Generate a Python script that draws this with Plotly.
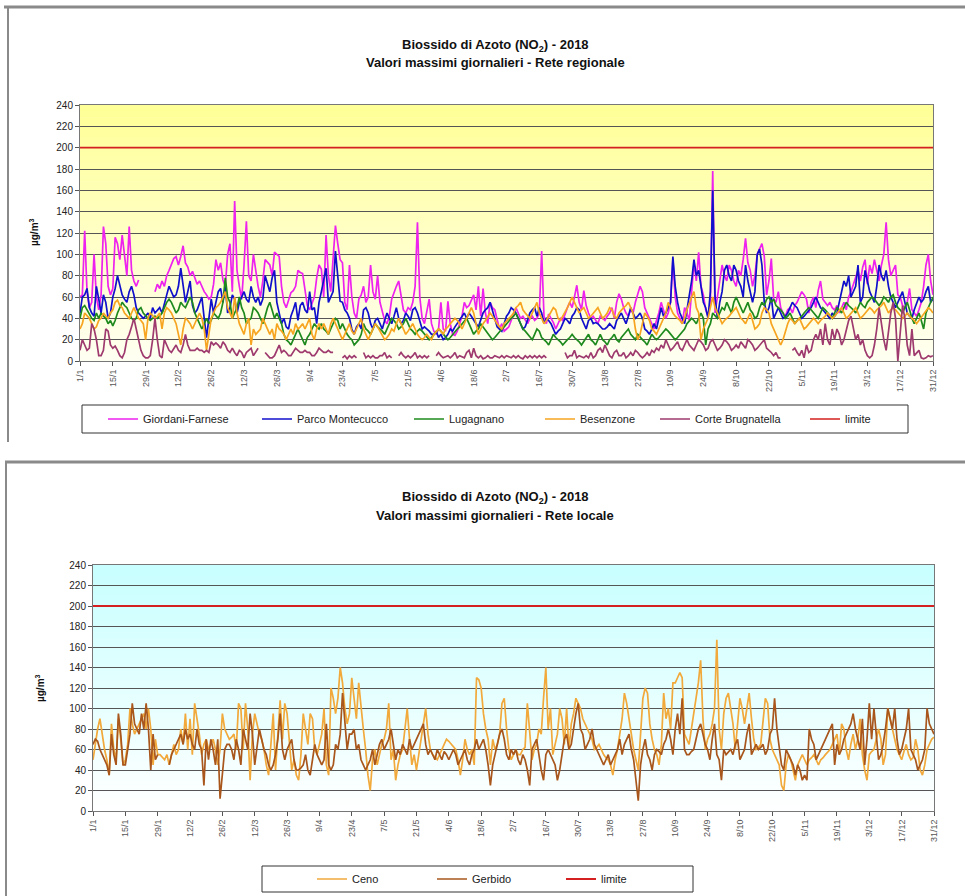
import pandas as pd
import plotly.graph_objects as go

N = None

# ---------------- DATA ----------------
dates = pd.date_range("2018-01-01", "2018-12-31", freq="D")
tick_dates = pd.date_range("2018-01-01", "2018-12-31", freq="14D")
tick_labels = ["1/1", "15/1", "29/1", "12/2", "26/2", "12/3", "26/3", "9/4", "23/4",
               "7/5", "21/5", "4/6", "18/6", "2/7", "16/7", "30/7", "13/8", "27/8",
               "10/9", "24/9", "8/10", "22/10", "5/11", "19/11", "3/12", "17/12", "31/12"]
LIMITE = 200

giordani_farnese = [
    60, 62, 122, 65, 50, 55, 100, 60, 48, 62, 126, 110, 70, 62,
    68, 116, 110, 95, 118, 98, 80, 126, 85, 75, 70, 76, N, N,
    N, N, N, N, 65, 72, 68, 75, 70, 80, 85, 90, 96, 98,
    90, 98, 108, 92, 88, 80, 84, 78, 72, 75, 70, 65, 62, 58,
    60, 72, 95, 85, 92, 76, 70, 100, 110, 65, 150, 85, 70, 58,
    90, 131, 80, 75, 100, 85, 70, 60, 75, 95, 92, 90, 80, 102,
    100, 98, 70, 55, 50, 58, 64, 66, 70, 85, 83, 82, 65, 52,
    48, 55, 60, 78, 90, 86, 60, 118, 80, 65, 100, 127, 110, 95,
    92, 55, 48, 90, 60, 45, 40, 58, 62, 70, 55, 60, 90, 65,
    58, 80, 55, 45, 38, 35, 42, 58, 65, 70, 75, 60, 48, 45,
    50, 48, 55, 70, 130, 60, 40, 35, 45, 58, 35, 28, 25, 30,
    55, 30, 28, 56, 35, 25, 24, 28, 35, 42, 55, 50, 52, 58,
    62, 48, 70, 42, 68, 45, 35, 55, 50, 48, 38, 30, 35, 28,
    30, 32, 38, 45, 50, 45, 40, 42, 38, 35, 40, 42, 38, 40,
    45, 103, 42, 35, 44, 40, 36, 30, 35, 40, 38, 45, 50, 55,
    50, 60, 71, 55, 48, 66, 52, 45, 40, 42, 38, 35, 42, 40,
    38, 42, 45, 50, 40, 55, 63, 58, 50, 45, 42, 48, 45, 55,
    62, 70, 65, 50, 45, 40, 35, 30, 38, 45, 55, 48, 40, 45,
    55, 95, 60, 45, 40, 35, 50, 45, 38, 70, 92, 75, 102, 70,
    62, 48, 42, 55, 178, 45, 60, 78, 90, 80, 75, 90, 85, 75,
    70, 85, 80, 95, 115, 92, 85, 70, 80, 100, 105, 110, 98, 62,
    75, 96, 58, 55, 65, 50, 45, 42, 48, 50, 45, 52, 55, 60,
    65, 62, 58, 45, 55, 60, 50, 66, 75, 58, 55, 52, 55, 50,
    48, 52, 45, 50, 55, 48, 60, 65, 72, 80, 85, 75, 88, 95,
    72, 90, 82, 95, 85, 75, 90, 100, 130, 95, 80, 85, 90, 62,
    60, 52, 50, 55, 68, 48, 45, 42, 48, 55, 70, 90, 100, 75,
    62]

parco_montecucco = [
    45, 60, 62, 68, 50, 45, 42, 70, 58, 45, 62, 55, 40, 45,
    60, 68, 80, 70, 62, 58, 55, 65, 70, 62, 50, 45, 42, 40,
    42, 45, 40, 50, 45, 48, 50, 45, 55, 62, 70, 65, 60, 62,
    70, 87, 72, 55, 65, 75, 52, 45, 48, 55, 60, 40, 22, 40,
    58, 45, 55, 65, 68, 55, 70, 45, 50, 62, 58, 45, 55, 60,
    65, 58, 55, 70, 60, 55, 60, 52, 58, 80, 72, 65, 78, 85,
    55, 45, 35, 40, 32, 30, 42, 48, 55, 38, 52, 55, 48, 45,
    65, 48, 50, 35, 55, 65, 78, 87, 55, 60, 65, 103, 80, 56,
    55, 48, 45, 40, 30, 25, 32, 35, 30, 48, 50, 45, 35, 30,
    38, 40, 35, 30, 38, 45, 40, 35, 42, 50, 40, 35, 38, 45,
    42, 38, 48, 50, 45, 38, 30, 32, 30, 28, 25, 25, 28, 22,
    25, 20, 22, 25, 30, 28, 32, 35, 38, 42, 45, 40, 45, 42,
    38, 35, 32, 38, 45, 48, 50, 55, 48, 40, 32, 30, 28, 35,
    42, 45, 50, 48, 45, 40, 35, 30, 32, 38, 45, 48, 50, 42,
    50, 45, 35, 40, 38, 35, 30, 25, 28, 30, 35, 40, 38, 35,
    42, 45, 50, 48, 40, 35, 30, 38, 40, 35, 36, 35, 32, 30,
    30, 32, 35, 32, 30, 38, 42, 45, 40, 35, 42, 50, 45, 40,
    42, 45, 40, 30, 28, 25, 30, 35, 30, 40, 50, 42, 45, 50,
    55, 98, 70, 55, 45, 40, 35, 48, 60, 75, 95, 80, 85, 70,
    55, 50, 40, 65, 160, 60, 40, 55, 65, 85, 90, 80, 75, 90,
    85, 75, 70, 60, 90, 75, 65, 55, 65, 100, 105, 90, 55, 45,
    50, 60, 40, 45, 50, 45, 40, 42, 45, 50, 55, 52, 50, 45,
    40, 42, 45, 48, 50, 55, 60, 55, 50, 48, 45, 42, 40, 45,
    42, 45, 55, 65, 75, 70, 80, 60, 65, 70, 90, 55, 60, 85,
    75, 65, 60, 55, 70, 90, 80, 75, 85, 70, 60, 55, 50, 55,
    60, 65, 55, 45, 42, 40, 48, 55, 60, 55, 58, 65, 70, 55,
    58]

lugagnano = [
    40, 50, 52, 48, 45, 40, 38, 45, 40, 45, 42, 40, 35, 38,
    33, 38, 45, 50, 55, 52, 50, 45, 40, 38, 40, 48, 50, 45,
    42, 40, 38, 40, 42, 40, 42, 45, 50, 55, 58, 55, 50, 45,
    48, 55, 52, 50, 55, 60, 55, 45, 40, 35, 30, 35, 40, 35,
    38, 45, 42, 40, 45, 55, 78, 60, 55, 40, 45, 50, 60, 50,
    45, 35, 38, 40, 50, 48, 45, 40, 35, 42, 50, 55, 48, 40,
    45, 40, 35, 25, 20, 18, 15, 20, 25, 30, 25, 20, 15, 22,
    25, 30, 35, 32, 30, 35, 30, 28, 25, 30, 35, 40, 38, 30,
    35, 30, 25, 22, 20, 15, 18, 20, 25, 35, 30, 28, 25, 30,
    35, 32, 30, 28, 25, 30, 35, 40, 38, 35, 30, 32, 35, 40,
    35, 30, 28, 25, 28, 30, 28, 25, 22, 20, 22, 25, 28, 30,
    28, 25, 22, 20, 22, 25, 28, 30, 32, 35, 38, 40, 35, 30,
    25, 28, 30, 35, 32, 28, 25, 22, 20, 22, 25, 28, 30, 32,
    35, 38, 40, 42, 45, 40, 35, 30, 28, 25, 22, 20, 25, 30,
    28, 22, 20, 18, 15, 20, 25, 22, 20, 18, 15, 18, 20, 22,
    25, 22, 20, 18, 15, 18, 22, 25, 20, 18, 15, 20, 25, 20,
    18, 15, 20, 22, 25, 20, 18, 22, 25, 28, 30, 25, 22, 20,
    25, 22, 20, 18, 15, 20, 25, 22, 20, 22, 25, 28, 30, 28,
    25, 22, 20, 22, 25, 28, 30, 35, 38, 40, 38, 35, 40, 45,
    40, 15, 30, 35, 45, 42, 40, 45, 50, 48, 55, 50, 45, 55,
    60, 55, 50, 45, 50, 55, 48, 45, 40, 42, 50, 55, 52, 58,
    60, 55, 58, 52, 50, 48, 45, 40, 42, 45, 40, 35, 38, 40,
    42, 45, 48, 50, 48, 45, 42, 40, 45, 50, 48, 45, 42, 40,
    45, 50, 48, 45, 50, 55, 52, 50, 48, 45, 50, 55, 52, 50,
    55, 58, 60, 58, 55, 52, 55, 60, 58, 55, 60, 62, 55, 50,
    48, 45, 50, 55, 48, 40, 35, 40, 45, 38, 30, 45, 50, 55,
    60]

besenzone = [
    30, 35, 45, 42, 40, 35, 30, 32, 38, 40, 45, 42, 40, 45,
    48, 55, 57, 52, 50, 45, 42, 40, 45, 50, 45, 40, 38, 35,
    20, 40, 45, 42, 40, 42, 45, 30, 45, 50, 48, 45, 40, 35,
    25, 15, 30, 40, 38, 35, 30, 35, 40, 45, 40, 30, 10, 25,
    40, 45, 50, 52, 55, 60, 65, 50, 45, 40, 60, 45, 35, 30,
    25, 35, 40, 15, 30, 25, 28, 30, 40, 35, 30, 25, 30, 20,
    35, 30, 28, 25, 20, 25, 30, 25, 35, 30, 32, 35, 30, 35,
    40, 25, 20, 30, 35, 30, 35, 30, 25, 35, 40, 35, 30, 25,
    20, 25, 30, 35, 28, 25, 30, 35, 40, 30, 25, 20, 25, 30,
    35, 32, 28, 25, 20, 22, 25, 30, 28, 35, 40, 35, 30, 25,
    28, 32, 35, 30, 25, 22, 20, 22, 25, 22, 20, 25, 28, 30,
    28, 25, 30, 32, 35, 38, 40, 38, 35, 30, 35, 40, 45, 50,
    45, 35, 25, 30, 35, 38, 42, 45, 42, 38, 35, 32, 30, 35,
    38, 40, 42, 45, 50, 52, 55, 48, 45, 42, 40, 45, 50, 55,
    45, 40, 35, 38, 42, 45, 50, 48, 40, 38, 42, 45, 50, 55,
    60, 55, 50, 45, 48, 50, 45, 40, 42, 45, 48, 50, 45, 40,
    42, 45, 50, 48, 42, 40, 45, 48, 50, 52, 55, 50, 45, 30,
    20, 25, 35, 45, 42, 38, 30, 28, 25, 30, 35, 40, 45, 55,
    50, 45, 42, 40, 38, 35, 40, 48, 55, 60, 65, 50, 45, 20,
    30, 35, 40, 50, 60, 50, 45, 40, 35, 38, 40, 42, 45, 48,
    50, 45, 40, 38, 35, 40, 45, 38, 30, 32, 35, 45, 50, 48,
    45, 35, 30, 25, 20, 15, 20, 28, 35, 40, 38, 35, 38, 40,
    35, 30, 32, 35, 38, 40, 38, 35, 38, 40, 42, 45, 42, 40,
    42, 45, 48, 50, 45, 40, 42, 45, 48, 50, 45, 40, 42, 45,
    48, 50, 48, 45, 48, 50, 52, 55, 50, 45, 48, 50, 48, 45,
    42, 40, 42, 45, 42, 40, 38, 35, 38, 42, 45, 48, 50, 48,
    45]

corte_brugnatella = [
    10, 20, 15, 10, 12, 35, 30, 20, 5, 5, 10, 30, 28, 15,
    12, 14, 10, 5, 3, 8, 20, 25, 32, 40, 30, 20, 10, 5,
    3, 3, 5, 20, 40, 20, 5, 3, 20, 15, 10, 8, 12, 15,
    10, 8, 15, 25, 15, 10, 10, 10, 12, 10, 10, 8, 10, 8,
    18, 15, 17, 15, 12, 18, 15, 10, 8, 12, 8, 5, 10, 8,
    3, 8, 10, 12, 5, 8, 12, N, N, 8, 5, 3, 3, 5,
    10, 15, 8, 10, 8, 5, 5, 8, 12, 10, 8, 8, 10, 8,
    8, 5, 5, 8, 12, 10, 8, 8, 10, 8, 8, N, N, N,
    3, 5, 2, 5, 3, 5, 3, N, N, 8, 3, 5, 3, 5,
    3, 3, 5, 5, 8, 3, 5, 3, N, N, 5, 8, 5, 3,
    5, 3, 5, 8, 3, 5, 3, 5, 3, 5, N, N, 5, 8,
    5, 3, 4, 5, 3, 5, 8, 3, 5, 4, 3, 8, 10, 3,
    12, 5, 3, 5, 2, 3, 5, 3, 3, 5, 4, 3, 5, 3,
    5, 4, 3, 5, 3, 5, 3, 2, 5, 3, 5, 3, 5, 3,
    5, 3, 5, 3, N, N, N, N, N, N, N, 8, 3, 5,
    5, 10, 3, 5, 4, 3, 5, 3, 8, 3, 5, 10, 12, 8,
    15, 10, 5, 3, 8, 10, 5, 5, 8, 3, 5, 8, 5, 10,
    8, 5, 3, 5, 8, 5, 10, 8, 12, 10, 15, 12, 20, 15,
    10, 12, 15, 18, 12, 10, 15, 20, 15, 12, 10, 15, 20, 18,
    15, 10, 12, 18, 20, 15, 10, 12, 15, 20, 18, 15, 10, 12,
    15, 12, 18, 15, 12, 20, 18, 15, 10, 12, 15, 18, 20, 12,
    10, 8, 5, 8, 3, 3, N, N, N, N, 10, 12, 8, 5,
    10, 3, 15, 8, 10, 20, 25, 20, 30, 15, 35, 20, 15, 30,
    20, 30, 25, 15, 20, 30, 38, 42, 30, 20, 25, 15, 20, 10,
    5, 3, 5, 15, 30, 50, 35, 20, 10, 30, 45, 55, 40, 0,
    30, 52, 40, 15, 5, 30, 5, 8, 10, 3, 2, 3, 5, 4,
    5]

ceno = [
    50, 65, 80, 90, 75, 60, 50, 35, 85, 60, 50, 90, 70, 45,
    50, 65, 100, 85, 75, 80, 85, 90, 95, 80, 100, 80, 45, 70,
    55, 55, 52, 50, 55, 45, 55, 65, 55, 60, 80, 65, 95, 60,
    90, 55, 105, 90, 75, 55, 65, 70, 60, 65, 70, 60, 45, 60,
    95, 80, 75, 70, 72, 75, 60, 105, 100, 60, 105, 80, 30, 75,
    95, 85, 75, 70, 60, 45, 35, 65, 95, 40, 70, 108, 70, 105,
    95, 70, 40, 50, 35, 30, 55, 95, 80, 65, 95, 90, 60, 55,
    65, 75, 100, 45, 35, 120, 110, 95, 110, 140, 125, 100, 85, 95,
    130, 110, 90, 125, 100, 80, 60, 35, 20, 50, 60, 45, 55, 65,
    70, 80, 105, 50, 60, 30, 45, 55, 60, 80, 100, 70, 45, 55,
    40, 55, 70, 85, 100, 75, 60, 55, 52, 50, 55, 60, 65, 70,
    68, 65, 62, 60, 50, 35, 50, 70, 60, 55, 60, 45, 130, 128,
    120, 95, 80, 70, 45, 70, 60, 65, 75, 105, 110, 80, 60, 50,
    55, 60, 55, 55, 60, 62, 105, 75, 50, 60, 65, 80, 75, 110,
    140, 80, 100, 55, 65, 75, 100, 90, 65, 100, 60, 85, 95, 110,
    105, 100, 90, 85, 80, 75, 70, 60, 62, 65, 60, 55, 52, 50,
    45, 35, 50, 60, 75, 90, 115, 105, 90, 75, 60, 50, 40, 75,
    110, 120, 115, 85, 70, 60, 55, 45, 65, 115, 90, 100, 80, 125,
    125, 130, 135, 130, 75, 70, 65, 80, 95, 110, 125, 147, 90, 60,
    70, 75, 85, 100, 167, 80, 60, 95, 110, 115, 100, 85, 60, 85,
    110, 100, 85, 100, 115, 90, 70, 60, 62, 65, 90, 110, 105, 70,
    60, 55, 50, 45, 25, 20, 45, 55, 50, 40, 30, 45, 50, 55,
    50, 45, 50, 52, 55, 50, 45, 50, 52, 55, 58, 60, 65, 70,
    75, 55, 85, 80, 60, 50, 65, 75, 60, 70, 90, 55, 40, 30,
    55, 58, 60, 70, 80, 70, 45, 55, 100, 90, 80, 70, 60, 55,
    50, 58, 65, 55, 50, 52, 70, 60, 40, 35, 45, 60, 65, 70,
    72]

gerbido = [
    65, 70, 68, 60, 55, 50, 45, 35, 75, 55, 45, 95, 75, 45,
    45, 60, 75, 105, 85, 80, 75, 95, 80, 105, 80, 40, 75, 50,
    55, N, N, N, N, 45, 55, 60, 65, 70, 75, 65, 80, 70,
    75, 65, 60, 80, 65, 60, 25, 70, 50, 70, 60, 45, 70, 12,
    35, 60, 65, 65, 60, 50, 70, 60, 45, 80, 70, 60, 95, 75,
    45, 65, 80, 70, 60, 55, 45, 40, 45, 55, 70, 95, 60, 50,
    60, 65, 70, 50, 40, 40, 42, 45, 55, 40, 35, 50, 65, 55,
    50, 45, 50, 85, 45, 40, 45, 65, 60, 75, 115, 90, 60, 75,
    75, 80, 60, 65, 50, 45, 40, 45, 50, 60, 45, 55, 65, 70,
    60, 65, 70, 80, 65, 50, 60, 55, 65, 60, 55, 70, 60, 65,
    70, 75, 80, 85, 65, 55, 60, 55, 50, 60, 55, 50, 58, 55,
    50, 55, 60, 55, 45, 50, 55, 60, 50, 45, 55, 60, 70, 60,
    65, 70, 60, 45, 25, 45, 55, 65, 75, 80, 70, 55, 50, 60,
    55, 60, 50, 45, 55, 50, 40, 25, 60, 65, 70, 55, 40, 30,
    55, 60, 55, 50, 45, 30, 40, 55, 70, 75, 60, 65, 80, 95,
    105, 80, 75, 60, 65, 70, 80, 65, 60, 55, 50, 45, 50, 55,
    45, 50, 55, 60, 70, 55, 65, 70, 75, 60, 50, 30, 10, 45,
    60, 70, 55, 50, 40, 55, 60, 58, 55, 65, 70, 80, 70, 55,
    80, 95, 75, 110, 60, 55, 55, 58, 60, 70, 80, 85, 75, 65,
    60, 50, 70, 85, 55, 50, 30, 60, 55, 58, 60, 55, 65, 70,
    50, 55, 60, 75, 85, 55, 60, 65, 60, 62, 65, 55, 60, 75,
    80, 110, 80, 60, 45, 40, 60, 55, 50, 45, 35, 45, 40, 30,
    35, 30, 80, 70, 65, 50, 55, 60, 65, 70, 75, 80, 85, 45,
    65, 55, 60, 70, 75, 80, 85, 95, 80, 70, 60, 90, 45, 70,
    105, 70, 100, 75, 50, 55, 65, 80, 100, 90, 80, 100, 70, 55,
    60, 70, 80, 100, 60, 55, 50, 40, 45, 50, 60, 100, 85, 80,
    75]

# ---------------- FIGURE ----------------
W, H = 965, 896
FONT = "Liberation Sans, Arial, sans-serif"

def px_x(x):
    return x / W

def px_y(y):
    return 1 - y / H

fig = go.Figure()

# (name, values, colour, legend entry width in px)
top_series = [
    ("Giordani-Farnese", giordani_farnese, "#EE22EE", 109),
    ("Parco Montecucco", parco_montecucco, "#1010CC", 107),
    ("Lugagnano", lugagnano, "#1E8A1E", 86),
    ("Besenzone", besenzone, "#F7A520", 70),
    ("Corte Brugnatella", corte_brugnatella, "#9E3A6E", 105),
]
for name, vals, col, lw in top_series:
    fig.add_trace(go.Scatter(x=dates, y=vals, name=name, mode="lines",
                             line=dict(color=col, width=1.7), legendwidth=lw,
                             connectgaps=False, xaxis="x", yaxis="y", legend="legend"))
fig.add_trace(go.Scatter(x=dates, y=[LIMITE] * len(dates), name="limite", mode="lines",
                         line=dict(color="#D42020", width=1.6), xaxis="x", yaxis="y",
                         legendwidth=40, legend="legend"))

bottom_series = [
    ("Ceno", ceno, "#F2A93B", 75),
    ("Gerbido", gerbido, "#A8561C", 84),
]
for name, vals, col, lw in bottom_series:
    fig.add_trace(go.Scatter(x=dates, y=vals, name=name, mode="lines",
                             line=dict(color=col, width=1.7), legendwidth=lw,
                             connectgaps=False, xaxis="x2", yaxis="y2", legend="legend2"))
fig.add_trace(go.Scatter(x=dates, y=[LIMITE] * len(dates), name="limite", mode="lines",
                         line=dict(color="#D42020", width=1.8), xaxis="x2", yaxis="y2",
                         legendwidth=40, legend="legend2"))

# gradient backgrounds
shapes = []
def gradient(xref, yref, top_rgb, bot_rgb, n=40):
    for i in range(n):
        t = (i + 0.5) / n  # 0 bottom -> 1 top
        c = [round(bot_rgb[k] + (top_rgb[k] - bot_rgb[k]) * t) for k in range(3)]
        shapes.append(dict(type="rect", xref=xref + " domain", yref=yref + " domain",
                           x0=0, x1=1, y0=i / n, y1=(i + 1) / n + 0.002,
                           fillcolor="rgb(%d,%d,%d)" % tuple(c), line=dict(width=0),
                           layer="below"))

gradient("x", "y", (255, 255, 150), (255, 255, 242))
gradient("x2", "y2", (200, 255, 255), (255, 255, 255))

# outer frames
frame_col = "#8a8a8a"
shapes += [
    dict(type="line", xref="paper", yref="paper", x0=px_x(4), x1=1.0, y0=px_y(7), y1=px_y(7),
         line=dict(color=frame_col, width=3)),
    dict(type="line", xref="paper", yref="paper", x0=px_x(8), x1=px_x(8), y0=px_y(7), y1=px_y(442),
         line=dict(color=frame_col, width=2)),
    dict(type="line", xref="paper", yref="paper", x0=px_x(5), x1=1.0, y0=px_y(462), y1=px_y(462),
         line=dict(color=frame_col, width=3)),
    dict(type="line", xref="paper", yref="paper", x0=px_x(6), x1=px_x(6), y0=px_y(462), y1=0,
         line=dict(color=frame_col, width=2)),
    # legend boxes
    dict(type="rect", xref="paper", yref="paper", x0=px_x(82), x1=px_x(908),
         y0=px_y(433), y1=px_y(405), line=dict(color="#333", width=1), fillcolor="white"),
    dict(type="rect", xref="paper", yref="paper", x0=px_x(262), x1=px_x(693),
         y0=px_y(892), y1=px_y(866), line=dict(color="#333", width=1), fillcolor="white"),
]

annotations = []
def titles(y1, y2, line2):
    annotations.append(dict(xref="paper", yref="paper", x=px_x(495), y=px_y(y1),
                            xanchor="center", yanchor="middle",
                            text="<b>Biossido di Azoto (NO<sub>2</sub>) - 2018</b>",
                            showarrow=False, font=dict(family=FONT, size=13, color="#111")))
    annotations.append(dict(xref="paper", yref="paper", x=px_x(495), y=px_y(y2),
                            xanchor="center", yanchor="middle",
                            text="<b>" + line2 + "</b>",
                            showarrow=False, font=dict(family=FONT, size=13, color="#111")))

titles(45, 62, "Valori massimi giornalieri - Rete regionale")
titles(497, 515, "Valori massimi giornalieri - Rete locale")
for yy, xx in ((232, 34), (688, 40)):
    annotations.append(dict(xref="paper", yref="paper", x=px_x(xx), y=px_y(yy),
                            xanchor="center", yanchor="middle",
                            text="<b>µg/m<sup>3</sup></b>", textangle=-90, showarrow=False,
                            font=dict(family=FONT, size=10, color="#111")))

xaxis_common = dict(
    type="date", range=[dates[0], dates[-1]],
    tickmode="array", tickvals=list(tick_dates), ticktext=tick_labels,
    tickangle=-90, tickfont=dict(family=FONT, size=9, color="#555"),
    ticks="outside", ticklen=4, tickcolor="#555",
    showgrid=False, showline=True, linecolor="#777", linewidth=1, mirror=True,
    zeroline=False, automargin=False,
)
yaxis_common = dict(
    range=[0, 240], dtick=20, tick0=0,
    tickfont=dict(family=FONT, size=10, color="#222"),
    ticks="outside", ticklen=4, tickcolor="#555",
    showgrid=True, gridcolor="#555555", gridwidth=1,
    showline=True, linecolor="#777", linewidth=1, mirror=True,
    zeroline=False, automargin=False,
)

legend_common = dict(orientation="h", xanchor="left", yanchor="middle",
                     borderwidth=0, bgcolor="rgba(0,0,0,0)",
                     font=dict(family=FONT, size=11, color="#222"),
                     itemwidth=30, tracegroupgap=0)

fig.update_layout(
    width=W, height=H, margin=dict(l=0, r=0, t=0, b=0, autoexpand=False),
    paper_bgcolor="white", plot_bgcolor="rgba(0,0,0,0)",
    font=dict(family=FONT, size=10, color="#222"),
    xaxis=dict(domain=[px_x(80), px_x(933)], anchor="y", **xaxis_common),
    yaxis=dict(domain=[px_y(361), px_y(105)], anchor="x", **yaxis_common),
    xaxis2=dict(domain=[px_x(93), px_x(934)], anchor="y2", **xaxis_common),
    yaxis2=dict(domain=[px_y(811), px_y(565)], anchor="x2", **yaxis_common),
    shapes=shapes, annotations=annotations,
    legend=dict(x=px_x(103), y=px_y(419), **legend_common),
    legend2=dict(x=px_x(312), y=px_y(879), **legend_common),
    showlegend=True,
)

fig.write_html("out.html")
